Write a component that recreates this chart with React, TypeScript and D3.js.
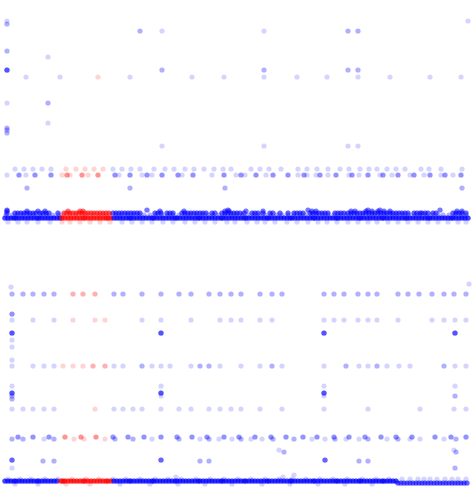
import React from "react";
import * as d3 from "d3";

const W = 475;
const H = 490;

// x = sample index; samples inside this index range belong to group B (red)
const groupBRange = [61, 112];

// ---------- top panel (value, repeat count, sample indices) ----------
const top204 = [7, 468];
const top201 = [7];
const top194a = [140, 348, 358];
const top194b = [162, 264];
const top174 = [7];
const top168 = [48];
const top155a = [7];
const top155b = [162, 264, 348, 358];
const top148 = [26, 60, 98, 130, 192, 224, 264, 297, 327, 358, 390, 430, 461];
const top122a = [7];
const top122b = [48];
const top102 = [48];
const top97 = [7];
const top95 = [7];
const top92 = [7];
const top79 = [162, 264, 348, 358];
const top56 = [15, 24, 33, 42, 51, 66, 76, 85, 94, 103, 113, 122, 131, 140, 154, 165, 174, 185, 194, 204, 214, 223, 231, 251, 260, 269, 281, 298, 307, 317, 328, 340, 349, 360, 369, 377, 387, 396, 405, 421, 429, 441, 462];
const top50a = [7, 26, 62, 70, 88, 119, 142, 152, 182, 212, 236, 245, 266, 298, 307, 316, 328, 349, 359, 380, 392, 410, 424, 441, 453];
const top50b = [19, 35, 51, 67, 82, 98, 115, 130, 147, 162, 178, 193, 224, 241, 256, 273, 288, 304, 320, 336, 352, 368, 383, 398, 414, 430, 445, 461];
const top37 = [27, 130, 225, 462];
const top15 = [7, 147, 228, 308, 368, 380, 440];
const top14 = [7, 27, 38, 45, 68, 80, 83, 160, 184, 225, 229, 246, 263, 312, 316, 351, 355, 366, 372, 378, 384, 390, 457, 462];
const top12 = [7, 15, 18, 21, 24, 27, 30, 33, 36, 40, 43, 46, 49, 58, 64, 67, 70, 73, 76, 79, 82, 85, 88, 91, 94, 97, 100, 103, 106, 109, 113, 116, 119, 122, 125, 128, 131, 134, 137, 140, 155, 158, 161, 167, 170, 173, 182, 185, 188, 191, 194, 197, 200, 203, 206, 212, 215, 222, 225, 228, 231, 234, 237, 240, 244, 252, 255, 258, 263, 270, 273, 280, 288, 294, 297, 300, 303, 310, 313, 316, 319, 322, 325, 328, 335, 338, 341, 344, 348, 351, 354, 357, 360, 363, 366, 369, 372, 375, 378, 381, 384, 387, 390, 393, 396, 399, 402, 405, 408, 414, 417, 420, 422, 425, 428, 433, 436, 453, 456, 459, 462, 466];
const top10 = [6, 12, 17, 23, 29, 34, 41, 47, 53, 59, 64, 70, 76, 82, 87, 93, 99, 104, 110, 116, 121, 127, 133, 139, 144, 150, 156, 162, 168, 173, 179, 185, 190, 196, 202, 208, 213, 219, 225, 231, 236, 242, 248, 254, 259, 265, 271, 277, 282, 288, 294, 300, 305, 311, 317, 323, 328, 334, 340, 346, 351, 357, 363, 369, 374, 380, 386, 392, 397, 403, 409, 415, 420, 426, 432, 438, 443, 449, 455, 461, 466];
const top7 = [5, 8, 11, 14, 16, 19, 22, 25, 28, 31, 34, 37, 39, 42, 45, 48, 51, 54, 57, 60, 62, 65, 68, 71, 74, 77, 80, 83, 85, 88, 91, 94, 97, 100, 103, 106, 108, 111, 114, 117, 120, 123, 126, 129, 131, 134, 137, 140, 143, 146, 149, 152, 154, 157, 160, 163, 166, 169, 172, 175, 177, 180, 183, 186, 189, 192, 195, 198, 200, 203, 206, 209, 212, 215, 218, 221, 223, 226, 229, 232, 235, 238, 241, 244, 246, 249, 252, 255, 258, 261, 264, 267, 269, 272, 275, 278, 281, 284, 287, 290, 292, 295, 298, 301, 304, 307, 310, 313, 315, 318, 321, 324, 327, 330, 333, 336, 338, 341, 344, 347, 350, 353, 356, 359, 361, 364, 367, 370, 373, 376, 379, 382, 384, 387, 390, 393, 396, 399, 402, 405, 407, 410, 413, 416, 419, 422, 425, 428, 430, 433, 436, 439, 442, 445, 448, 451, 453, 456, 459, 462, 465, 468];
const top3 = [8, 18, 27, 38, 50, 62, 70, 80, 90, 100, 110, 122, 132, 142, 152, 163, 173, 185, 195, 205, 215, 227, 235, 247, 257, 265, 275, 287, 297, 308, 318, 327, 337, 348, 358, 368, 377, 388, 398, 408, 418, 428, 438, 448, 458, 466];

// ---------- bottom panel ----------
const bot201 = [469];
const bot198 = [11];
const bot191 = [12, 23, 33, 44, 54, 73, 83, 95, 114, 123, 142, 161, 179, 191, 209, 220, 231, 241, 260, 272, 282, 324, 334, 344, 358, 368, 377, 398, 408, 419, 432, 444, 454, 466];
const bot171 = [12];
const bot165 = [12, 33, 54, 73, 95, 105, 142, 161, 191, 220, 231, 241, 260, 272, 324, 334, 344, 358, 368, 377, 398, 432, 444, 455, 466];
const bot152 = [12, 161, 324, 455];
const bot145 = [12];
const bot138 = [12];
const bot125 = [12];
const bot119a = [12, 33, 44, 54, 63, 73, 83, 114, 123, 152, 161, 170, 191, 220, 241, 260, 282, 324, 359, 368, 387, 399, 410, 455, 466];
const bot119b = [93, 105, 142, 200, 209, 272, 346, 377, 444];
const bot99 = [12, 161, 324, 455];
const bot92 = [12, 161, 324];
const bot89a = [12, 455];
const bot89b = [161, 324];
const bot86 = [12];
const bot76 = [12, 23, 33, 44, 54, 95, 114, 123, 133, 142, 161, 179, 191, 209, 220, 231, 241, 260, 282, 324, 368, 420, 454, 466];
const bot48 = [18, 33, 49, 65, 81, 96, 113, 128, 144, 161, 177, 192, 207, 224, 239, 255, 271, 286, 303, 317, 334, 349, 365, 381, 396, 412, 435, 451, 466];
const bot46a = [44, 74, 84, 105, 152, 200, 219, 232, 251, 262, 312, 325, 346, 359, 387, 410, 420, 444];
const bot46b = [12, 23, 54, 115, 133, 179, 209, 241, 273, 294, 335, 368, 398, 456];
const bot35 = [279, 454];
const bot33 = [284, 456];
const bot25 = [12, 161, 325];
const bot24 = [43, 54, 200, 209, 359, 368];
const bot17a = [12];
const bot17b = [455];
const bot10 = [294];
const bot8 = [176, 283];
const bot6 = [8, 20, 31, 45, 58, 72, 86, 99, 113, 126, 140, 155, 168, 181, 196, 210, 224, 238, 251, 265, 279, 292, 306, 320, 333, 347, 362, 376, 389, 402, 410, 418, 424, 430, 437, 445, 452, 458, 466];
const bot4 = [5, 8, 11, 14, 16, 19, 22, 25, 28, 31, 34, 37, 39, 42, 45, 48, 51, 54, 57, 61, 63, 65, 68, 71, 74, 77, 80, 83, 85, 88, 91, 94, 97, 100, 103, 106, 108, 111, 114, 117, 120, 123, 126, 129, 131, 134, 137, 140, 143, 146, 149, 152, 154, 157, 160, 163, 166, 169, 172, 175, 177, 180, 183, 186, 189, 192, 195, 198, 200, 203, 206, 209, 212, 215, 218, 221, 223, 226, 229, 232, 235, 238, 241, 244, 246, 249, 252, 255, 258, 261, 264, 267, 269, 272, 275, 278, 281, 284, 287, 290, 292, 295, 298, 301, 304, 307, 310, 313, 315, 318, 321, 324, 327, 330, 333, 336, 338, 341, 344, 347, 350, 353, 356, 359, 361, 364, 367, 370, 373, 376, 379, 382, 384, 387, 390, 393, 396];
const bot2 = [398, 401, 404, 407, 410, 413, 416, 419, 422, 425, 428, 431, 434, 437, 440, 443, 446, 449, 452, 455, 458, 461, 464, 467];
const bot1 = [15, 38, 66, 90, 120, 150, 178, 205, 232, 262, 290, 318, 345, 372];

type Row = [number, number, number[]];

const topRows: Row[] = [
  [204, 1, top204], [201, 2, top201], [194, 2, top194a], [194, 1, top194b],
  [174, 2, top174], [168, 1, top168], [155, 6, top155a], [155, 2, top155b],
  [148, 1, top148], [122, 1, top122a], [122, 2, top122b], [102, 1, top102],
  [97, 2, top97], [95, 2, top95], [92, 2, top92], [79, 1, top79],
  [56, 1, top56], [50, 1, top50a], [50, 3, top50b], [37, 2, top37],
  [15, 4, top15], [14, 4, top14], [12, 5, top12], [10, 2, top10],
  [7, 7, top7], [3, 1, top3],
];

const bottomRows: Row[] = [
  [201, 1, bot201], [198, 1, bot198], [191, 2, bot191], [171, 3, bot171],
  [165, 1, bot165], [152, 6, bot152], [145, 1, bot145], [138, 1, bot138],
  [125, 1, bot125], [119, 1, bot119a], [119, 2, bot119b], [99, 1, bot99],
  [92, 6, bot92], [89, 2, bot89a], [89, 1, bot89b], [86, 2, bot86],
  [76, 1, bot76], [48, 3, bot48], [46, 1, bot46a], [46, 2, bot46b],
  [35, 1, bot35], [33, 2, bot33], [25, 5, bot25], [24, 2, bot24],
  [17, 1, bot17a], [17, 2, bot17b], [10, 1, bot10], [8, 1, bot8],
  [6, 1, bot6], [4, 7, bot4], [2, 5, bot2], [1, 1, bot1],
];

const x = d3.scaleLinear().domain([0, 475]).range([0, W]);
const yTop = d3.scaleLinear().domain([0, 200]).range([225, 25]);
const yBottom = d3.scaleLinear().domain([0, 200]).range([485, 285]);

function expand(rows: Row[]) {
  const pts: { x: number; v: number; g: number }[] = [];
  rows.forEach(([v, n, xs]) => {
    xs.forEach((xi) => {
      for (let k = 0; k < n; k++) {
        pts.push({ x: xi, v, g: xi >= groupBRange[0] && xi <= groupBRange[1] ? 1 : 0 });
      }
    });
  });
  return pts;
}

const colour = d3.scaleOrdinal<number, string>().domain([0, 1]).range(["#0000ff", "#ff0000"]);

export default function App() {
  const top = expand(topRows);
  const bottom = expand(bottomRows);
  return (
    <svg
      width={W}
      height={H}
      style={{ position: "absolute", left: 0, top: 0, background: "#fff" }}
    >
      <g>
        {top.map((p, i) => (
          <circle key={"t" + i} cx={x(p.x)} cy={yTop(p.v)} r={2.6} fill={colour(p.g)} fillOpacity={0.17} />
        ))}
      </g>
      <g>
        {bottom.map((p, i) => (
          <circle key={"b" + i} cx={x(p.x)} cy={yBottom(p.v)} r={2.6} fill={colour(p.g)} fillOpacity={0.17} />
        ))}
      </g>
    </svg>
  );
}
